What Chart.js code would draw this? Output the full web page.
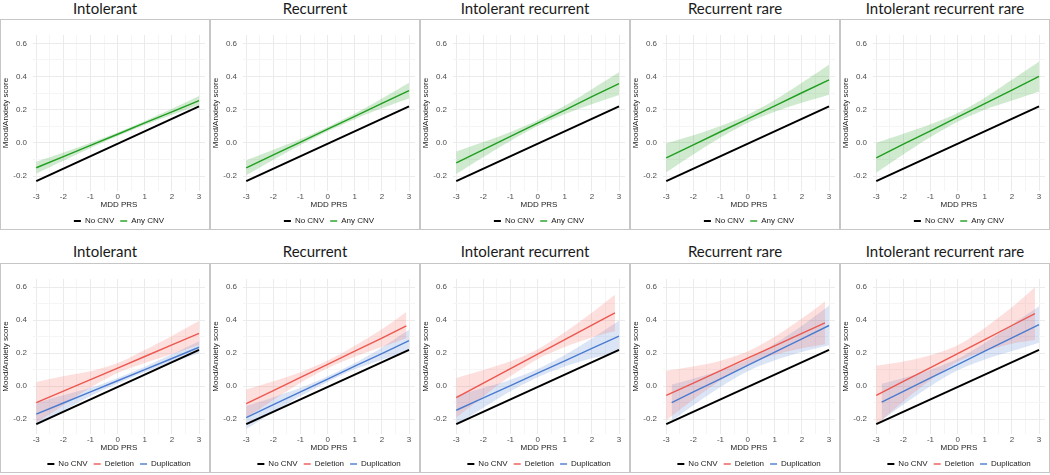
<!DOCTYPE html>
<html>
<head>
<meta charset="utf-8">
<script src="https://cdn.jsdelivr.net/npm/chart.js@4.4.1/dist/chart.umd.min.js"></script>
<style>
body { margin: 0; background: #fff; width: 1050px; height: 475px; position: relative; overflow: hidden; }
.title { position: absolute; width: 210px; text-align: center; font-family: Lato, "Open Sans", sans-serif; font-weight: 400; font-size: 15px; line-height: 16px; color: #1a1a1a; }
.box { position: absolute; width: 208px; border: 1px solid #c6c6c6; }
.box canvas { display: block; }
</style>
</head>
<body>
<script>
const panelTitles = ['Intolerant', 'Recurrent', 'Intolerant recurrent', 'Recurrent rare', 'Intolerant recurrent rare'];

const xTicks = [-3, -2.5, -2, -1.5, -1, -0.5, 0, 0.5, 1, 1.5, 2, 2.5, 3];
const yTicks = [-0.2, -0.1, 0, 0.1, 0.2, 0.3, 0.4, 0.5, 0.6];

// No CNV reference line (same in every panel)
const noCnvPrs = [-3, 3];
const noCnvScore = [-0.23, 0.22];

// top row: Any CNV fit and 95% band
const anyPrs = [-3, -2, -1, 0, 1, 2, 3];
const anyFit = [
    [-0.150, -0.083, -0.015, 0.052, 0.120, 0.187, 0.255],
    [-0.150, -0.072, 0.005, 0.083, 0.160, 0.238, 0.315],
    [-0.120, -0.040, 0.039, 0.119, 0.198, 0.278, 0.357],
    [-0.090, -0.012, 0.067, 0.145, 0.223, 0.302, 0.380],
    [-0.090, -0.008, 0.073, 0.155, 0.237, 0.318, 0.400]
];
const anyHigh = [
    [-0.114, -0.058, 0.001, 0.063, 0.132, 0.205, 0.282],
    [-0.105, -0.042, 0.023, 0.096, 0.177, 0.268, 0.363],
    [-0.052, 0.005, 0.066, 0.137, 0.223, 0.323, 0.425],
    [-0.003, 0.046, 0.102, 0.170, 0.258, 0.362, 0.470],
    [0.000, 0.055, 0.112, 0.180, 0.272, 0.380, 0.490]
];
const anyLow = [
    [-0.186, -0.108, -0.031, 0.041, 0.108, 0.169, 0.228],
    [-0.195, -0.102, -0.013, 0.070, 0.143, 0.208, 0.267],
    [-0.188, -0.085, 0.012, 0.101, 0.173, 0.233, 0.289],
    [-0.177, -0.070, 0.032, 0.120, 0.188, 0.242, 0.290],
    [-0.180, -0.070, 0.035, 0.128, 0.200, 0.255, 0.310]
];

// bottom row: Deletion
const delPrs = [
    [-3, -2, -1, 0, 1, 2, 3],
    [-3, -2, -1, 0, 1, 2, 2.9],
    [-3, -2, -1, 0, 1, 2, 2.85],
    [-3, -2, -1, 0, 1, 2, 2.85],
    [-3, -2, -1, 0, 1, 2, 2.85]
];
const delFit = [
    [-0.100, -0.030, 0.040, 0.110, 0.180, 0.250, 0.320],
    [-0.106, -0.027, 0.053, 0.132, 0.212, 0.291, 0.365],
    [-0.070, 0.018, 0.106, 0.194, 0.282, 0.370, 0.444],
    [-0.056, 0.019, 0.094, 0.170, 0.245, 0.320, 0.384],
    [-0.056, 0.029, 0.113, 0.198, 0.283, 0.368, 0.440]
];
const delHigh = [
    [0.025, 0.060, 0.090, 0.140, 0.220, 0.305, 0.395],
    [-0.020, 0.030, 0.085, 0.155, 0.245, 0.345, 0.450],
    [0.050, 0.098, 0.151, 0.224, 0.327, 0.445, 0.554],
    [0.094, 0.119, 0.154, 0.210, 0.300, 0.410, 0.514],
    [0.124, 0.149, 0.188, 0.248, 0.353, 0.478, 0.600]
];
const delLow = [
    [-0.220, -0.115, -0.008, 0.080, 0.140, 0.195, 0.250],
    [-0.192, -0.084, 0.021, 0.109, 0.179, 0.237, 0.290],
    [-0.190, -0.062, 0.061, 0.164, 0.237, 0.295, 0.334],
    [-0.206, -0.081, 0.034, 0.130, 0.190, 0.230, 0.254],
    [-0.236, -0.091, 0.038, 0.148, 0.213, 0.258, 0.280]
];

// bottom row: Duplication
const dupPrs = [
    [-3, -2, -1, 0, 1, 2, 3],
    [-3, -2, -1, 0, 1, 2, 3],
    [-3, -2, -1, 0, 1, 2, 3],
    [-2.8, -2, -1, 0, 1, 2, 3],
    [-2.8, -2, -1, 0, 1, 2, 3]
];
const dupFit = [
    [-0.170, -0.102, -0.035, 0.033, 0.101, 0.168, 0.236],
    [-0.190, -0.112, -0.035, 0.043, 0.121, 0.198, 0.276],
    [-0.146, -0.071, 0.004, 0.079, 0.154, 0.229, 0.304],
    [-0.100, -0.035, 0.045, 0.126, 0.207, 0.287, 0.368],
    [-0.096, -0.031, 0.050, 0.131, 0.212, 0.293, 0.374]
];
const dupHigh = [
    [-0.100, -0.055, -0.010, 0.050, 0.118, 0.193, 0.272],
    [-0.120, -0.067, -0.010, 0.060, 0.140, 0.235, 0.342],
    [-0.056, -0.011, 0.039, 0.104, 0.189, 0.289, 0.399],
    [0.010, 0.045, 0.095, 0.161, 0.257, 0.367, 0.488],
    [0.014, 0.049, 0.100, 0.166, 0.262, 0.373, 0.484]
];
const dupLow = [
    [-0.240, -0.149, -0.060, 0.016, 0.084, 0.143, 0.200],
    [-0.260, -0.157, -0.060, 0.026, 0.102, 0.161, 0.210],
    [-0.236, -0.131, -0.031, 0.054, 0.119, 0.169, 0.209],
    [-0.210, -0.115, -0.005, 0.091, 0.157, 0.207, 0.248],
    [-0.206, -0.111, 0.000, 0.096, 0.162, 0.213, 0.264]
];

const GREEN = '#1f9e1f', GREEN_BAND = 'rgba(40,160,40,0.22)';
const RED = '#ec574f', RED_BAND = 'rgba(245,95,85,0.2)';
const BLUE = '#4a7bd0', BLUE_BAND = 'rgba(74,123,208,0.2)';

const smallFont = { family: '"Liberation Sans", Arial, sans-serif', size: 8 };

function pts(xs, ys) {
    return xs.map((x, i) => ({ x: x, y: ys[i] }));
}

function makeChart(canvas, series) {
    const datasets = [{
        label: 'No CNV', data: pts(noCnvPrs, noCnvScore), borderColor: '#000', backgroundColor: '#000',
        borderWidth: 2, pointRadius: 0, pointStyle: 'line', fill: false, order: 0
    }];
    series.forEach(s => {
        datasets.push({
            label: s.name, data: pts(s.prs, s.fit), borderColor: s.color, backgroundColor: s.color,
            borderWidth: 1.4, pointRadius: 0, pointStyle: 'line', fill: false, order: 0
        });
    });
    // CI bands go behind the lines
    series.forEach(s => {
        datasets.push({
            label: '', data: pts(s.prs, s.low), borderColor: 'rgba(0,0,0,0)', borderWidth: 0,
            pointRadius: 0, fill: false, tension: 0.3, order: 1
        });
        datasets.push({
            label: '', data: pts(s.prs, s.high), borderColor: 'rgba(0,0,0,0)', borderWidth: 0,
            pointRadius: 0, fill: '-1', backgroundColor: s.band, tension: 0.3, order: 1
        });
    });

    return new Chart(canvas.getContext('2d'), {
        type: 'line',
        data: { datasets: datasets },
        options: {
            responsive: false,
            animation: false,
            events: [],
            layout: { padding: { top: 15, right: 4, left: 0, bottom: 0 } },
            plugins: {
                filler: { drawTime: 'beforeDatasetsDraw' },
                tooltip: { enabled: false },
                legend: {
                    position: 'bottom',
                    fullSize: false,
                    maxHeight: 18,
                    labels: {
                        filter: item => item.text !== '',
                        usePointStyle: true,
                        pointStyleWidth: 7,
                        boxHeight: 6,
                        padding: 6,
                        color: '#1a1a1a',
                        font: smallFont
                    }
                }
            },
            scales: {
                x: {
                    type: 'linear', min: -3.12, max: 3.22,
                    afterBuildTicks: sc => { sc.ticks = xTicks.map(v => ({ value: v })); },
                    afterFit: sc => { sc.height = 20; },
                    border: { display: false },
                    grid: { drawTicks: false, color: c => (c.tick && Number.isInteger(c.tick.value)) ? '#ebebeb' : '#f5f5f5' },
                    ticks: {
                        autoSkip: false, maxRotation: 0, padding: 1, color: '#4d4d4d', font: smallFont,
                        callback: v => Number.isInteger(v) ? String(v) : ''
                    },
                    title: { display: true, text: 'MDD PRS', color: '#1a1a1a', font: smallFont, padding: { top: 0, bottom: 1.5 } }
                },
                y: {
                    min: -0.29, max: 0.65,
                    afterBuildTicks: sc => { sc.ticks = yTicks.map(v => ({ value: v })); },
                    afterFit: sc => { sc.width = 32; },
                    border: { display: false },
                    grid: { drawTicks: false, color: c => (c.tick && Math.round(c.tick.value * 10) % 2 === 0) ? '#ebebeb' : '#f5f5f5' },
                    ticks: {
                        autoSkip: false, padding: 6, color: '#4d4d4d', font: smallFont,
                        callback: v => Math.round(v * 10) % 2 === 0 ? v.toFixed(1) : ''
                    },
                    title: { display: true, text: 'Mood/Anxiety score', color: '#1a1a1a', font: smallFont, padding: { top: 0, bottom: 0 } }
                }
            }
        }
    });
}

function addPanel(row, col) {
    const left = col * 210;
    const title = document.createElement('div');
    title.className = 'title';
    title.style.left = left + 'px';
    title.style.top = (row === 0 ? 0 : 243) + 'px';
    title.textContent = panelTitles[col];
    document.body.appendChild(title);

    const box = document.createElement('div');
    box.className = 'box';
    box.style.left = left + 'px';
    box.style.top = (row === 0 ? 19 : 263) + 'px';
    const canvas = document.createElement('canvas');
    canvas.width = 208;
    canvas.height = row === 0 ? 209 : 208;
    box.appendChild(canvas);
    document.body.appendChild(box);

    let series;
    if (row === 0) {
        series = [{ name: 'Any CNV', color: GREEN, band: GREEN_BAND, prs: anyPrs, fit: anyFit[col], low: anyLow[col], high: anyHigh[col] }];
    } else {
        series = [
            { name: 'Deletion', color: RED, band: RED_BAND, prs: delPrs[col], fit: delFit[col], low: delLow[col], high: delHigh[col] },
            { name: 'Duplication', color: BLUE, band: BLUE_BAND, prs: dupPrs[col], fit: dupFit[col], low: dupLow[col], high: dupHigh[col] }
        ];
    }
    makeChart(canvas, series);
}

for (let r = 0; r < 2; r++) {
    for (let c = 0; c < 5; c++) addPanel(r, c);
}
</script>
</body>
</html>
